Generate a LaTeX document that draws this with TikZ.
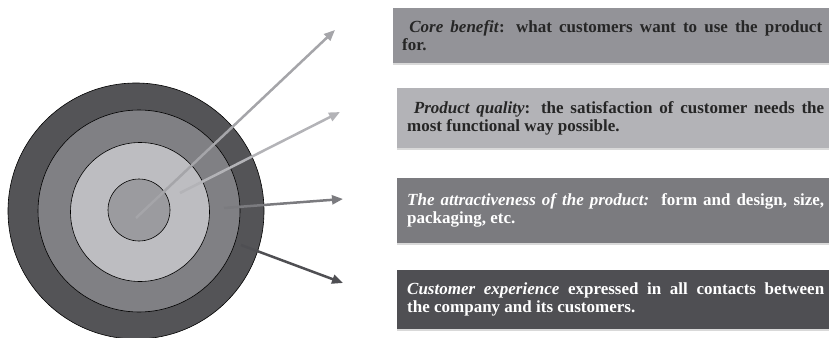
\documentclass[tikz,border=0pt]{standalone}
\usepackage{fontspec}
\setmainfont{Liberation Serif}
\usetikzlibrary{arrows.meta,shadows}

% greys of the rings, boxes and pointers
\definecolor{outerring}{HTML}{545457}
\definecolor{secondring}{HTML}{808084}
\definecolor{thirdring}{HTML}{BDBDC1}
\definecolor{corering}{HTML}{9B9B9F}
\definecolor{corebox}{HTML}{939398}
\definecolor{qualitybox}{HTML}{B3B3B7}
\definecolor{formbox}{HTML}{7B7B7F}
\definecolor{experiencebox}{HTML}{4F4F53}

\begin{document}
\begin{tikzpicture}[x=1pt,y=-1pt,
    ring/.style={circle,draw=black,line width=0.6pt,inner sep=0pt},
    pointer/.style={line width=2.5pt,-{Triangle[length=11pt,width=9pt]}},
    infobox/.style={anchor=north west,inner xsep=10pt,inner ysep=0pt,align=justify,
        font=\bfseries\fontsize{17}{18}\selectfont,
        drop shadow={shadow xshift=0pt,shadow yshift=-2pt,opacity=0.3}}]
    \useasboundingbox (0,0) rectangle (829,337);

    % centre of the target
    \def\cx{138}
    \def\cy{211}

    % the four rings, largest first
    \node[ring,fill=outerring,minimum size=256pt] (outer) at (\cx-2,\cy) {};
    \node[ring,fill=secondring,minimum size=202pt] (second) at (\cx+1,\cy) {};
    \node[ring,fill=thirdring,minimum size=139pt] (third) at (\cx+2,\cy+1) {};
    \node[ring,fill=corering,minimum size=62pt] (core) at (\cx+1,\cy-1) {};

    % where the pointers start and end
    \coordinate (s1) at (136,218);
    \coordinate (e1) at (335,30);
    \coordinate (s2) at (180,193);
    \coordinate (e2) at (340,112);
    \coordinate (s3) at (224,208);
    \coordinate (e3) at (343,199);
    \coordinate (s4) at (241,245);
    \coordinate (e4) at (343,283);

    \draw[pointer,color=corering!90!white] (s1) -- (e1);
    \draw[pointer,color=qualitybox] (s2) -- (e2);
    \draw[pointer,color=formbox] (s3) -- (e3);
    \draw[pointer,color=experiencebox] (s4) -- (e4);

    % text boxes on the right
    \node[infobox,fill=corebox,text=black!85,inner xsep=9pt,text width=420pt,minimum height=55pt] (benefit) at (393,8)
        {\ \textit{Core benefit}: what customers want to use the product\linebreak for.};
    \node[infobox,fill=qualitybox,text=black!85,text width=417pt,minimum height=60pt] (quality) at (397,88)
        {\ \textit{Product quality}: the satisfaction of customer needs the\linebreak most functional way possible.};
    \node[infobox,fill=formbox,text=white,text width=417pt,minimum height=65pt] (form) at (397,178)
        {\textit{The attractiveness of the product:}\ \ form and design, size,\linebreak packaging, etc.};
    \node[infobox,fill=experiencebox,text=white,text width=417pt,minimum height=59pt] (experience) at (397,270)
        {\textit{Customer experience} expressed in all contacts between\linebreak the company and its customers.};
\end{tikzpicture}
\end{document}
